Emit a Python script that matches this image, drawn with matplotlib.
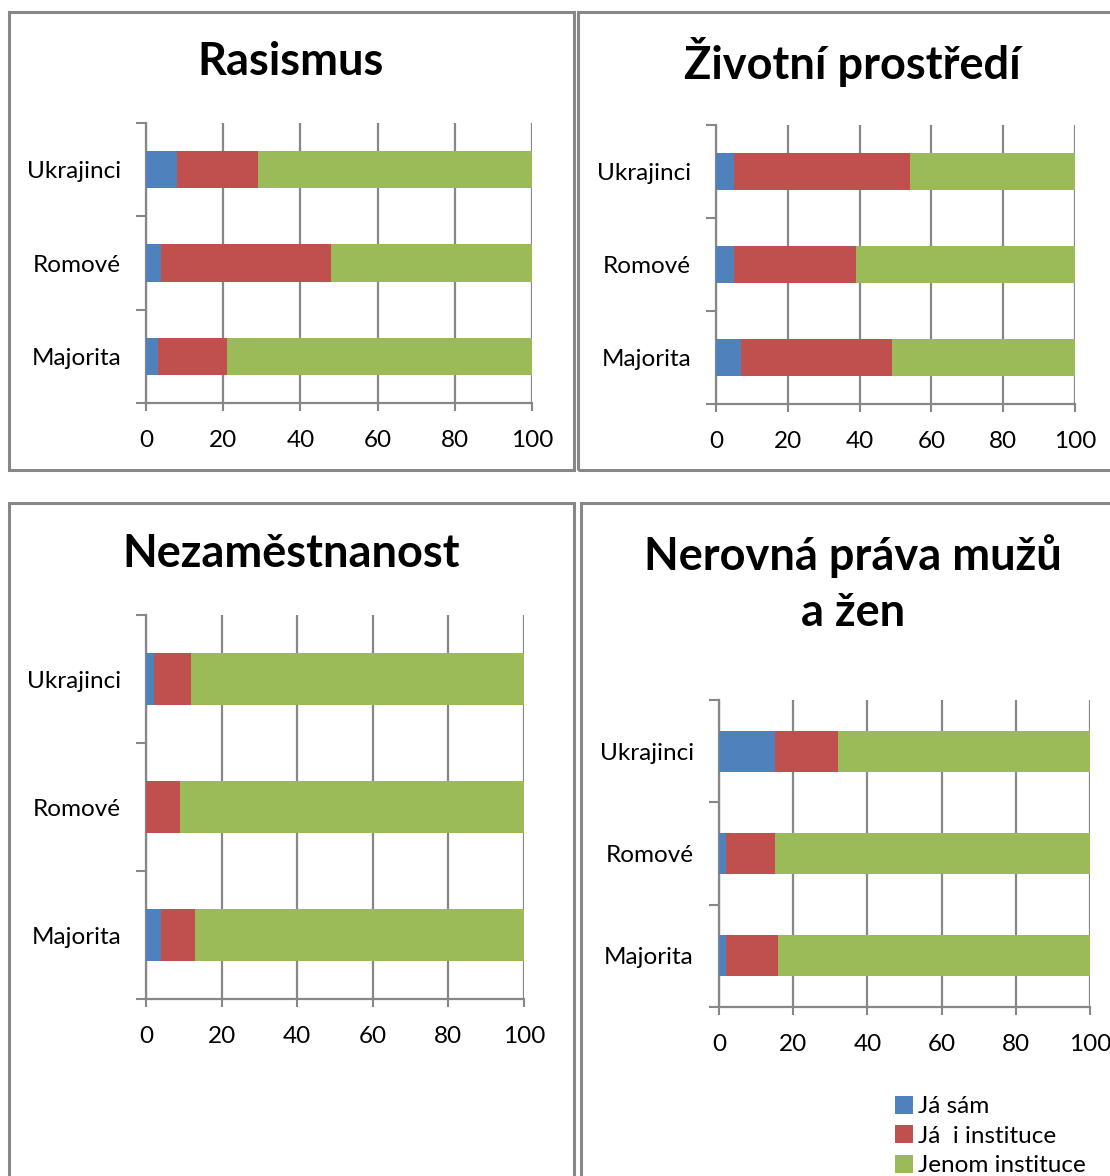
import matplotlib.pyplot as plt
from matplotlib.patches import Rectangle

plt.rcParams['font.family'] = ['Lato', 'DejaVu Sans']

# categories bottom -> top
groups = ['Majorita', 'Romové', 'Ukrajinci']
series = ['Já sám', 'Já  i instituce', 'Jenom instituce']
colors = ['#4f81bd', '#c0504d', '#9bbb59']

rasismus_sam = [3, 4, 8]
rasismus_oba = [18, 44, 21]
rasismus_inst = [79, 52, 71]

prostredi_sam = [7, 5, 5]
prostredi_oba = [42, 34, 49]
prostredi_inst = [51, 61, 46]

nezam_sam = [4, 0, 2]
nezam_oba = [9, 9, 10]
nezam_inst = [87, 91, 88]

prava_sam = [2, 2, 15]
prava_oba = [14, 13, 17]
prava_inst = [84, 85, 68]

W, H = 1110, 1176
fig = plt.figure(figsize=(W / 100, H / 100), dpi=100)


def px_axes(x0, y0, x1, y1):
    return fig.add_axes([x0 / W, 1 - y1 / H, (x1 - x0) / W, (y1 - y0) / H])


def px_rect(x0, y0, x1, y1):
    fig.patches.append(Rectangle((x0 / W, 1 - y1 / H), (x1 - x0) / W, (y1 - y0) / H,
                                 transform=fig.transFigure, fill=False,
                                 edgecolor='#878787', linewidth=2.2))


# panel frames
px_rect(9, 12, 574, 470)
px_rect(578, 12, 1125, 470)
px_rect(9, 503, 574, 1195)
px_rect(581, 503, 1125, 1195)

panels = [
    ('Rasismus', (146, 123, 532, 403), (rasismus_sam, rasismus_oba, rasismus_inst), (291, 62)),
    ('Životní prostředí', (716, 125, 1075, 404), (prostredi_sam, prostredi_oba, prostredi_inst), (852, 62)),
    ('Nezaměstnanost', (146, 615, 524, 999), (nezam_sam, nezam_oba, nezam_inst), (291, 554)),
    ('Nerovná práva mužů\na žen', (719, 700, 1090, 1007), (prava_sam, prava_oba, prava_inst), (853, 584)),
]

ypos = list(range(len(groups)))
handles = []
for title, box, vals, tpos in panels:
    ax = px_axes(*box)
    left = [0] * len(groups)
    handles = []
    for v, c, name in zip(vals, colors, series):
        h = ax.barh(ypos, v, left=left, height=0.4, color=c, label=name, zorder=3)
        handles.append(h)
        left = [a + b for a, b in zip(left, v)]
    ax.set_xlim(0, 100)
    ax.set_ylim(-0.5, 2.5)
    ax.set_xticks([0, 20, 40, 60, 80, 100])
    ax.set_yticks([-0.5, 0.5, 1.5, 2.5])
    ax.set_yticklabels([])
    ax.set_yticks(ypos, minor=True)
    ax.set_yticklabels(groups, minor=True)
    ax.tick_params(axis='y', which='major', length=7, width=1.5, color='#878787', direction='out')
    ax.tick_params(axis='y', which='minor', length=0, pad=18, labelsize=17.5)
    ax.tick_params(axis='x', length=6, width=1.5, color='#878787', pad=13.5, labelsize=17.5)
    ax.xaxis.grid(True, color='#878787', linewidth=1.6, zorder=0)
    for s in ['top', 'right']:
        ax.spines[s].set_visible(False)
    for s in ['left', 'bottom']:
        ax.spines[s].set_color('#878787')
        ax.spines[s].set_linewidth(1.6)
    fig.text(tpos[0] / W, 1 - tpos[1] / H, title, ha='center', va='center',
             fontsize=32.5, fontweight='bold', linespacing=1.4)

fig.legend(handles, series, loc='upper left', bbox_to_anchor=(895 / W, 1 - 1096 / H),
           frameon=False, fontsize=17.5, handlelength=0.75, handleheight=0.75,
           handletextpad=0.2, labelspacing=0.33, borderpad=0, borderaxespad=0)

fig.savefig('out.png', dpi=100, facecolor='white')
